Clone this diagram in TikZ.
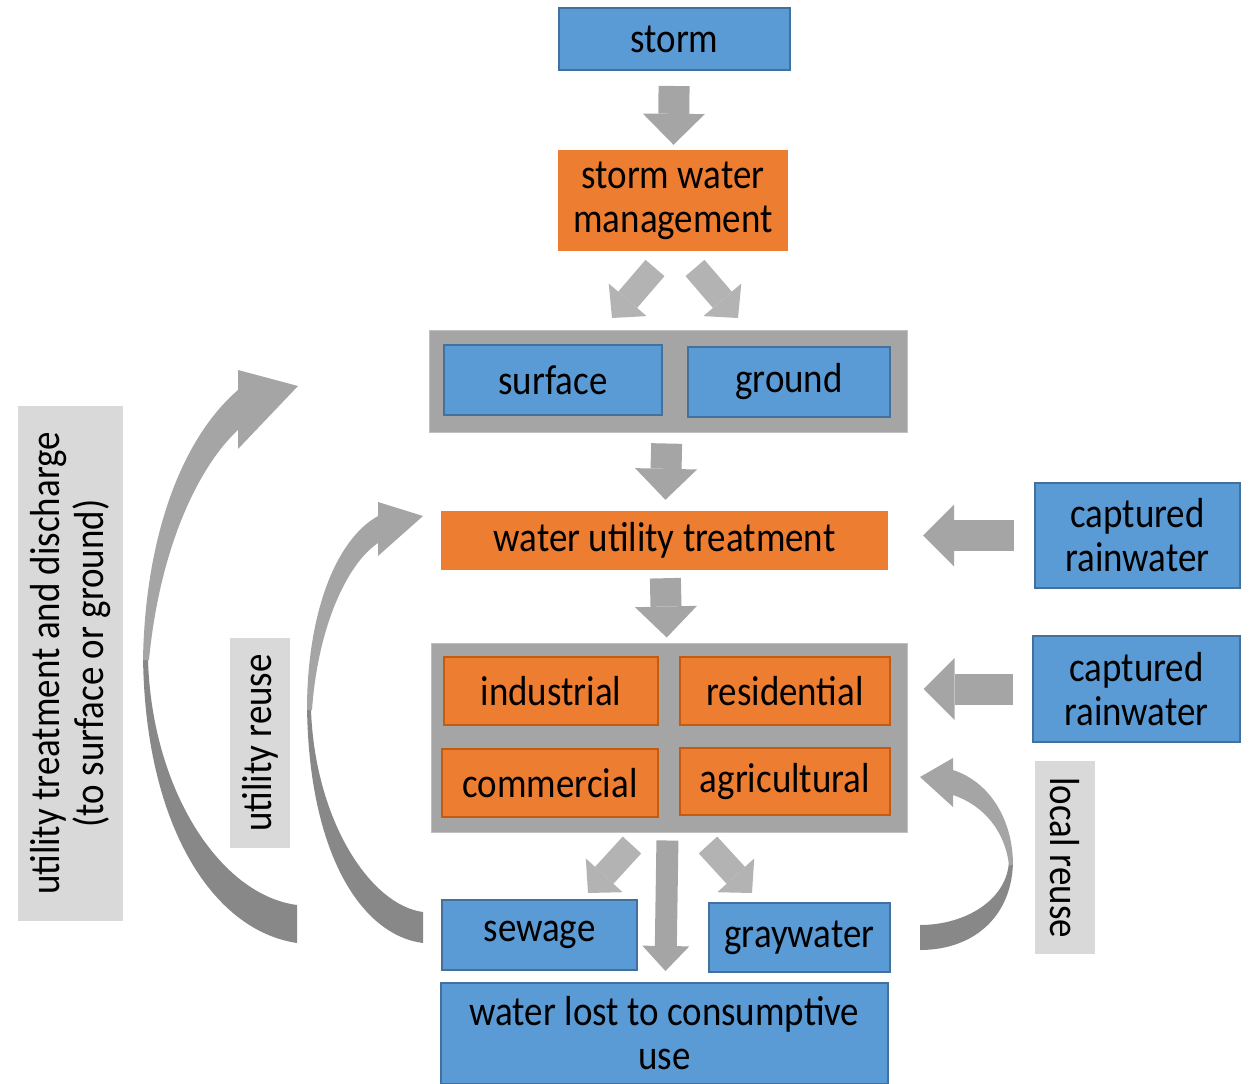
\documentclass[tikz,border=0pt]{standalone}
\usepackage{fontspec}
\setmainfont{Carlito}[FakeStretch=0.88]
\usetikzlibrary{arrows.meta}
\usetikzlibrary{calc}
\definecolor{boxblue}{HTML}{5B9BD5}
\definecolor{boxblueline}{HTML}{41719C}
\definecolor{boxorange}{HTML}{ED7D31}
\definecolor{boxorangeline}{HTML}{C55A11}
\definecolor{groupgray}{HTML}{A5A5A5}
\definecolor{labelgray}{HTML}{D9D9D9}
\definecolor{slantgray}{HTML}{B3B3B3}
\definecolor{benddark}{HTML}{888888}
\tikzset{
  every picture/.style={
    x=1pt, y=-1pt
  },
  box/.style={
    rectangle, inner sep=0pt, align=center,
    font=\fontsize{42}{44}\selectfont
  },
  bluebox/.style={
    box, fill=boxblue, draw=boxblueline, line width=2pt
  },
  orangebox/.style={
    box, fill=boxorange
  },
  orangecell/.style={
    orangebox, draw=boxorangeline, line width=2pt
  },
  groupbox/.style={
    rectangle, fill=groupgray, draw=groupgray!70, line width=1pt
  },
  labelbox/.style={
    box, fill=labelgray
  },
  block arrow/.style={
    draw=groupgray, line width=31pt,
    -{Triangle[length=31pt, width=62pt, line width=0pt]}
  },
  thin block arrow/.style={
    draw=groupgray, line width=22pt,
    -{Triangle[length=25pt, width=47pt, line width=0pt]}
  },
  slant arrow/.style={
    draw=slantgray, line width=25pt,
    -{Triangle[length=24pt, width=50pt, line width=0pt]}
  },
  bend light/.style={
    fill=groupgray
  },
  bend dark/.style={
    fill=benddark
  }
}
\begin{document}
\begin{tikzpicture}
  \useasboundingbox (0,0) rectangle (1251,1084);
  % boxes
  \node[bluebox, minimum width=231pt, minimum height=62pt] (storm) at (674.5,39) {storm};
  \node[orangebox, minimum width=230pt, minimum height=101pt] (swm) at (673,200.5) {storm water\\management};
  \node[groupbox, minimum width=478pt, minimum height=102pt] (source) at (668,381) {};
  \node[bluebox, minimum width=218pt, minimum height=70pt] (surface) at (553,380) {surface};
  \node[bluebox, minimum width=202pt, minimum height=70pt] (ground) at (789,382) {ground};
  \node[orangebox, minimum width=447pt, minimum height=59pt] (wut) at (664.5,540.5) {water utility treatment};
  \node[groupbox, minimum width=476pt, minimum height=189pt] (users) at (669,737.5) {};
  \node[orangecell, minimum width=214pt, minimum height=68pt] (industrial) at (551,691) {industrial};
  \node[orangecell, minimum width=210pt, minimum height=68pt] (residential) at (785,691) {residential};
  \node[orangecell, minimum width=216pt, minimum height=68pt] (commercial) at (550,783) {commercial};
  \node[orangecell, minimum width=210pt, minimum height=67pt] (agricultural) at (785,781.5) {agricultural};
  \node[bluebox, minimum width=195pt, minimum height=70pt] (sewage) at (539.5,935) {sewage};
  \node[bluebox, minimum width=181pt, minimum height=69pt] (graywater) at (799.5,937.5) {graywater};
  \node[bluebox, minimum width=447pt, minimum height=101pt] (lost) at (664.5,1033.5) {water lost to consumptive\\use};
  \node[bluebox, minimum width=205pt, minimum height=105pt] (rain1) at (1137.5,535.5) {captured\\rainwater};
  \node[bluebox, minimum width=207pt, minimum height=106pt] (rain2) at (1136.5,689) {captured\\rainwater};
  % side labels
  \node[labelbox, rotate=-90, minimum width=193pt, minimum height=60pt] (localreuse) at (1065,857.5) {local reuse};
  \node[labelbox, rotate=90, minimum width=210pt, minimum height=60pt] (utilreuse) at (260,743) {utility reuse};
  \node[labelbox, rotate=90, minimum width=515pt, minimum height=105pt] (discharge) at (70.5,663.5) {utility treatment and discharge\\(to surface or ground)};
  % straight arrows
  \draw[block arrow, shorten <=15pt, shorten >=5pt] (storm) -- (swm);
  \draw[block arrow, shorten <=11pt, shorten >=11pt] (source) -- (wut);
  \draw[block arrow, shorten <=8pt, shorten >=5pt] (wut) -- (users);
  \draw[thin block arrow, shorten <=8pt, shorten >=11pt] (users) -- (lost);
  \draw[block arrow, shorten <=20pt, shorten >=35pt] (rain1) -- (rain1 -| wut.east);
  \draw[block arrow, shorten <=19pt, shorten >=16pt] (rain2) -- (rain2 -| users.east);
  % slanted arrows
  \coordinate (s1) at (655,268);
  \coordinate (e1) at (612,318);
  \coordinate (s2) at (695,268);
  \coordinate (e2) at (738,318);
  \coordinate (s3) at (632,845);
  \coordinate (e3) at (588,893);
  \coordinate (s4) at (708,845);
  \coordinate (e4) at (752,893);
  \draw[slant arrow] (s1) -- (e1);
  \draw[slant arrow] (s2) -- (e2);
  \draw[slant arrow] (s3) -- (e3);
  \draw[slant arrow] (s4) -- (e4);
  % curved arrows
  \fill[bend dark] (143,650) .. controls (143,820) and (210,930) .. (297,943) -- (297,905)
    .. controls (220,895) and (152,790) .. (148,660) -- cycle;
  \fill[bend light] (143,660) .. controls (145,540) and (180,440) .. (238,390) -- (238,370)
    -- (298,386) -- (238,449) -- (238,430) .. controls (200,465) and (160,545) .. (149,660) -- cycle;
  \fill[bend dark] (307,700) .. controls (307,850) and (360,935) .. (423,943) -- (423,912)
    .. controls (370,905) and (315,820) .. (311,710) -- cycle;
  \fill[bend light] (307,710) .. controls (307,615) and (335,540) .. (378,516) -- (378,502)
    -- (423,516) -- (378,556) -- (378,543) .. controls (348,563) and (318,625) .. (312,710) -- cycle;
  \fill[bend dark] (1013,860) .. controls (1013,915) and (975,950) .. (920,950) -- (920,925)
    .. controls (965,925) and (1008,900) .. (1009,860) -- cycle;
  \fill[bend light] (953,770) .. controls (990,782) and (1013,820) .. (1013,865) -- (1009,865)
    .. controls (1005,832) and (985,806) .. (953,795) -- (953,807) -- (920,777) -- (953,758) -- cycle;
\end{tikzpicture}
\end{document}
